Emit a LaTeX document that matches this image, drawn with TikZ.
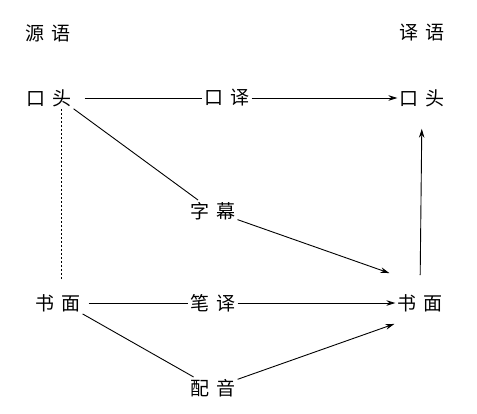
\documentclass[tikz,border=0pt]{standalone}
\usepackage{fontspec}
\newfontfamily\cjk[WordSpace=1.6]{Noto Sans CJK SC}
\usetikzlibrary{arrows.meta, positioning}

\begin{document}
\begin{tikzpicture}[
  x=1pt, y=-1pt,
  term/.style={font=\cjk\fontsize{19}{22}\selectfont, inner sep=2pt},
  conn/.style={line width=0.9pt},
  arr/.style={conn, -{Stealth[length=9pt, width=5.5pt]}},
  link/.style={line width=0.7pt, dash pattern=on 2pt off 2pt}
]
\useasboundingbox (0,0) rectangle (477,413);

% column heads
\node[term] (srchead) at (48,33) {源 语};
\node[term] (tgthead) at (422,33) {译 语};

% oral row
\node[term] (srcoral) at (49,98) {口 头};
\node[term] (interp) at (227,98) {口 译};
\node[term] (tgtoral) at (422,98) {口 头};

% written row
\node[term] (srcwritten) at (58,303) {书 面};
\node[term] (transl) at (213,303) {笔 译};
\node[term] (tgtwritten) at (420,303) {书 面};

% labels in between
\node[term] (subtitle) at (213,211) {字 幕};
\node[term] (dubbing) at (213,388) {配 音};

% horizontal routes
\draw[conn] ([xshift=11pt]srcoral.east) -- (interp.west);
\draw[arr] (interp.east) -- (tgtoral.west);
\draw[conn] ([xshift=6pt]srcwritten.east) -- (transl.west);
\draw[arr] (transl.east) -- (tgtwritten.west);

% vertical links
\draw[arr, shorten <=17pt, shorten >=20pt] (tgtwritten.north) -- (tgtoral.south);
\draw[link, shorten >=12pt] ([xshift=12pt]srcoral.south) -- ([xshift=12pt]srcoral.south |- srcwritten.north);

% diagonal routes
\draw[conn] (srcoral.south east) -- (subtitle);
\draw[arr] (subtitle) -- ([xshift=-6pt, yshift=19pt]tgtwritten.north west);
\draw[conn] (srcwritten.south east) -- (dubbing);
\draw[arr] (dubbing) -- ([xshift=-1pt, yshift=-10pt]tgtwritten.south west);
\end{tikzpicture}
\end{document}
